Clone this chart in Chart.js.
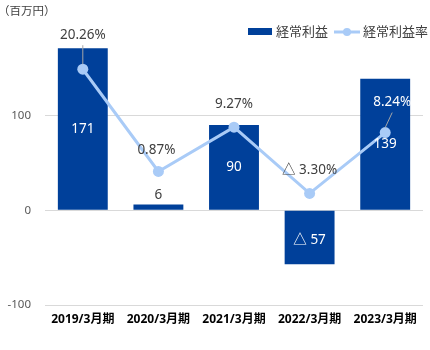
<!DOCTYPE html>
<html>
<head>
<meta charset="utf-8">
<script src="https://cdn.jsdelivr.net/npm/chart.js@4/dist/chart.umd.min.js"></script>
<style>
  html, body { margin: 0; padding: 0; background: #fff; }
  #wrap { position: relative; width: 430px; height: 350px; }
</style>
</head>
<body>
<div id="wrap"><canvas id="chart" width="430" height="350"></canvas></div>
<script>
// --- Data ---
const categories = ["2019/3月期", "2020/3月期", "2021/3月期", "2022/3月期", "2023/3月期"];
const profitValues = [171, 6, 90, -57, 139];          // 経常利益 (百万円)
const rateValues = [20.26, 0.87, 9.27, -3.30, 8.24];  // 経常利益率 (%)
const yTickValues = [-100, 0, 100];

// --- Styles ---
const BAR_COLOR = "#00409a";
const LINE_COLOR = "#a9cbf7";
const TEXT_COLOR = "#404040";
const FONT = '"Noto Sans", "Noto Sans CJK JP", sans-serif';
// label shift above each rate point (px), and horizontal nudge
const rateLabelDy = [-34, -21, -23, -23, -30];
const rateLabelDx = [0, -2, 0, 0, 7];
const rateLabelColor = [TEXT_COLOR, TEXT_COLOR, TEXT_COLOR, TEXT_COLOR, "#ffffff"];

function fmtProfit(v) { return v < 0 ? "△ " + Math.abs(v) : String(v); }
function fmtRate(v) { return v < 0 ? "△ " + Math.abs(v).toFixed(2) + "%" : v.toFixed(2) + "%"; }

// --- Plugin: labels, legend, unit ---
const decorPlugin = {
    id: "decor",
    afterDatasetsDraw(chart) {
        const ctx = chart.ctx;
        ctx.save();
        ctx.textAlign = "center";
        ctx.textBaseline = "middle";
        ctx.font = "13.5px " + FONT;

        // bar labels
        const barMeta = chart.getDatasetMeta(0);
        barMeta.data.forEach((bar, i) => {
            const top = Math.min(bar.y, bar.base);
            const h = Math.abs(bar.base - bar.y);
            if (h < 20) {
                ctx.fillStyle = TEXT_COLOR;
                ctx.fillText(fmtProfit(profitValues[i]), bar.x, top - 9);
            } else {
                ctx.fillStyle = "#ffffff";
                ctx.fillText(fmtProfit(profitValues[i]), bar.x, top + h / 2 + (profitValues[i] < 0 ? 3 : 0));
            }
        });

        // rate labels
        const lineMeta = chart.getDatasetMeta(1);
        lineMeta.data.forEach((pt, i) => {
            const lx = pt.x + rateLabelDx[i];
            const ly = pt.y + rateLabelDy[i];
            if (rateLabelDy[i] < -28) {
                ctx.strokeStyle = "#a6a6a6";
                ctx.lineWidth = 1;
                ctx.beginPath();
                ctx.moveTo(lx, ly + 10);
                ctx.lineTo(pt.x, pt.y - 5);
                ctx.stroke();
            }
            ctx.fillStyle = rateLabelColor[i];
            ctx.fillText(fmtRate(rateValues[i]), lx, ly);
        });

        // unit
        ctx.textAlign = "left";
        ctx.font = "11.5px " + FONT;
        ctx.fillStyle = TEXT_COLOR;
        ctx.fillText("（百万円）", -2, 12);

        // legend
        ctx.font = "13px " + FONT;
        ctx.fillStyle = BAR_COLOR;
        ctx.fillRect(248, 28, 24, 7);
        ctx.fillStyle = TEXT_COLOR;
        ctx.fillText("経常利益", 276, 32);
        ctx.strokeStyle = LINE_COLOR;
        ctx.lineWidth = 3;
        ctx.beginPath();
        ctx.moveTo(334, 32);
        ctx.lineTo(360, 32);
        ctx.stroke();
        ctx.fillStyle = LINE_COLOR;
        ctx.beginPath();
        ctx.arc(347, 32, 4, 0, Math.PI * 2);
        ctx.fill();
        ctx.fillStyle = TEXT_COLOR;
        ctx.fillText("経常利益率", 363, 32);
        ctx.restore();
    }
};

const ctx = document.getElementById("chart").getContext("2d");
new Chart(ctx, {
    data: {
        labels: categories,
        datasets: [
            {
                type: "bar",
                label: "経常利益",
                data: profitValues,
                backgroundColor: BAR_COLOR,
                barPercentage: 0.66,
                categoryPercentage: 1,
                yAxisID: "y",
                order: 2
            },
            {
                type: "line",
                label: "経常利益率",
                data: rateValues,
                borderColor: LINE_COLOR,
                backgroundColor: LINE_COLOR,
                borderWidth: 3,
                pointRadius: 5.5,
                pointBackgroundColor: LINE_COLOR,
                pointBorderWidth: 0,
                tension: 0,
                yAxisID: "y1",
                order: 1
            }
        ]
    },
    options: {
        responsive: false,
        animation: false,
        layout: { padding: { top: 20.6, right: 7, left: 0, bottom: 0 } },
        plugins: {
            legend: { display: false },
            tooltip: { enabled: false }
        },
        scales: {
            x: {
                offset: true,
                grid: { display: false, drawTicks: false },
                border: { display: false },
                ticks: {
                    color: "#000000",
                    font: { family: FONT, size: 12, weight: "bold" },
                    padding: 7,
                    maxRotation: 0,
                    autoSkip: false
                },
                afterFit(scale) { scale.height = 45; }
            },
            y: {
                min: -100,
                max: 200,
                afterBuildTicks(scale) {
                    scale.ticks = yTickValues.map(v => ({ value: v }));
                },
                grid: { color: "#d9d9d9", drawTicks: false, lineWidth: 1 },
                border: { display: false },
                ticks: {
                    color: "#595959",
                    font: { family: FONT, size: 11.5 },
                    padding: 14
                },
                afterFit(scale) { scale.width = 45; }
            },
            y1: {
                display: false,
                min: -24.47,
                max: 29.43,
                grid: { display: false }
            }
        }
    },
    plugins: [decorPlugin]
});
</script>
</body>
</html>
